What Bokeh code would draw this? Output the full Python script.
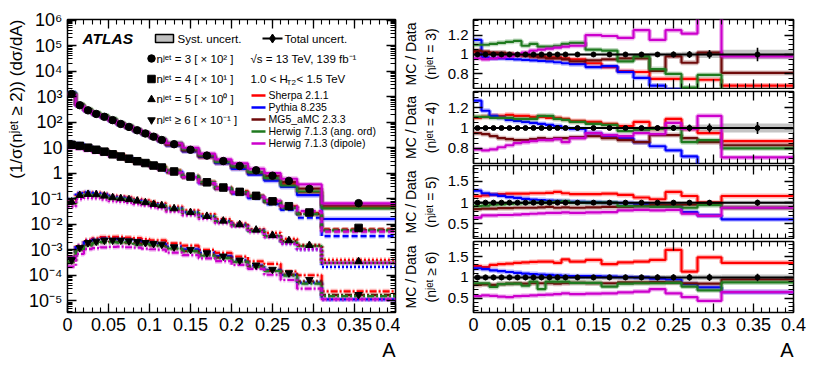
import numpy as np
from bokeh.plotting import figure
from bokeh.models import (Range1d, FixedTicker, CustomJSTickFormatter, LinearAxis, LogAxis,
                          Label, Span, Title)
from bokeh.layouts import row, column
from bokeh.embed import file_html
from bokeh.resources import INLINE

# ---------------- data ----------------
edges = [0.0, 0.01, 0.02, 0.03, 0.04, 0.05, 0.06, 0.07, 0.08, 0.09, 0.10, 0.11, 0.12,
         0.14, 0.16, 0.18, 0.20, 0.22, 0.24, 0.26, 0.28, 0.31, 0.40]

# displayed (already scaled) data values
n3_data = [1270, 460, 290, 210, 162, 120, 85, 65, 48, 36, 27, 20, 13.7, 8.3, 4.9, 3.0, 1.93, 1.3, 0.8, 0.5, 0.243, 0.067]
n4_data = [13, 11.8, 10, 8.3, 7.0, 5.5, 4.5, 3.7, 2.95, 2.5, 2.0, 1.67, 1.17, 0.74, 0.44, 0.275, 0.186, 0.13, 0.079, 0.051, 0.029, 0.0072]
n5_data = [0.075, 0.137, 0.150, 0.146, 0.129, 0.111, 0.102, 0.093, 0.082, 0.071, 0.061, 0.054, 0.041, 0.029, 0.0206, 0.0135, 0.0098, 0.006, 0.0037, 0.0023, 0.0015, 0.00035]
n6_data = [0.0004, 0.0012, 0.0019, 0.00215, 0.00236, 0.00236, 0.00236, 0.00221, 0.0021, 0.0019, 0.00175, 0.00164, 0.00129, 0.00102, 0.00075, 0.00056, 0.00039, 0.00025, 0.00017, 0.000124, 0.000068, 0.0000175]

# relative uncertainties of data
n3_tot = [0.012]*12 + [0.012, 0.014, 0.016, 0.018, 0.02, 0.025, 0.03, 0.035, 0.045, 0.07]
n3_sys = [0.008]*12 + [0.008, 0.01, 0.012, 0.014, 0.016, 0.02, 0.024, 0.028, 0.035, 0.05]
n4_tot = [0.012]*12 + [0.012, 0.014, 0.016, 0.018, 0.02, 0.025, 0.03, 0.035, 0.045, 0.06]
n4_sys = [0.008]*12 + [0.008, 0.01, 0.012, 0.014, 0.016, 0.02, 0.024, 0.028, 0.035, 0.045]
n5_tot = [0.03]*12 + [0.03, 0.03, 0.035, 0.035, 0.04, 0.04, 0.045, 0.05, 0.06, 0.07]
n5_sys = [0.025]*12 + [0.025, 0.025, 0.03, 0.03, 0.03, 0.03, 0.035, 0.035, 0.04, 0.045]
n6_tot = [0.065]*12 + [0.065, 0.065, 0.07, 0.07, 0.07, 0.075, 0.075, 0.08, 0.085, 0.09]
n6_sys = [0.055]*12 + [0.055, 0.055, 0.06, 0.06, 0.06, 0.06, 0.06, 0.065, 0.065, 0.07]

# MC / Data ratios
sherpa_n3 = [1.03, 1.02, 1.01, 1.0, 1.0, 0.99, 0.99, 0.98, 0.98, 0.97, 0.97, 0.96, 0.95, 0.91, 0.87, 0.83, 0.82, 0.75, 0.75, 0.75, 0.74, 0.68]
pythia_n3 = [1.15, 0.97, 0.96, 0.96, 0.955, 0.95, 0.945, 0.94, 0.935, 0.93, 0.92, 0.91, 0.90, 0.87, 0.88, 0.82, 0.76, 0.68, 0.64, 0.58, 0.57, 0.24]
mg5_n3 = [1.04, 1.03, 1.02, 1.02, 1.01, 1.0, 0.99, 0.98, 0.97, 0.96, 0.96, 0.95, 0.93, 0.94, 0.95, 0.96, 0.96, 0.83, 0.98, 0.915, 1.02, 0.81]
hwang_n3 = [1.10, 1.10, 1.11, 1.12, 1.13, 1.14, 1.09, 1.11, 1.08, 1.08, 1.09, 1.11, 1.12, 1.05, 1.04, 0.93, 0.98, 0.85, 0.80, 0.66, 0.79, 0.63]
hwdip_n3 = [0.96, 0.95, 0.96, 0.97, 0.98, 1.0, 1.02, 1.04, 1.05, 1.06, 1.07, 1.08, 1.09, 1.2, 1.19, 1.17, 1.25, 1.15, 1.25, 1.215, 1.5, 0.98]

sherpa_n4 = [1.10, 1.11, 1.12, 1.12, 1.13, 1.12, 1.12, 1.11, 1.11, 1.10, 1.10, 1.09, 1.07, 1.06, 1.04, 1.02, 1.06, 0.99, 1.09, 0.99, 0.95, 0.87]
pythia_n4 = [1.27, 1.17, 1.12, 1.10, 1.08, 1.07, 1.06, 1.05, 1.04, 1.03, 1.02, 1.0, 0.99, 0.95, 0.92, 0.90, 0.86, 0.82, 0.78, 0.72, 0.62, 0.48]
mg5_n4 = [0.95, 0.94, 0.92, 0.90, 0.89, 0.88, 0.88, 0.89, 0.90, 0.89, 0.90, 0.90, 0.91, 0.92, 0.90, 0.88, 0.86, 0.93, 0.93, 0.90, 0.86, 0.83]
hwang_n4 = [1.11, 1.11, 1.10, 1.10, 1.10, 1.09, 1.09, 1.09, 1.12, 1.12, 1.09, 1.08, 1.06, 1.04, 1.03, 0.97, 0.98, 0.99, 1.0, 0.86, 0.88, 0.80]
hwdip_n4 = [0.79, 0.78, 0.79, 0.81, 0.83, 0.85, 0.86, 0.87, 0.88, 0.88, 0.89, 0.86, 0.90, 0.95, 0.93, 0.92, 0.95, 0.94, 1.05, 0.99, 1.12, 0.71]

sherpa_n5 = [1.15, 1.17, 1.19, 1.20, 1.21, 1.21, 1.21, 1.22, 1.22, 1.23, 1.25, 1.22, 1.20, 1.20, 1.21, 1.18, 1.12, 1.08, 1.25, 1.155, 1.0, 1.155]
pythia_n5 = [1.28, 1.22, 1.19, 1.16, 1.13, 1.11, 1.09, 1.07, 1.06, 1.05, 1.04, 1.03, 1.02, 1.01, 1.0, 0.99, 0.97, 0.95, 0.94, 0.78, 0.70, 0.61]
mg5_n5 = [0.85, 0.86, 0.86, 0.87, 0.87, 0.88, 0.88, 0.88, 0.89, 0.90, 0.88, 0.89, 0.88, 0.89, 0.90, 0.90, 0.92, 0.95, 0.95, 0.95, 0.98, 0.88]
hwang_n5 = [0.92, 0.93, 0.95, 0.96, 0.97, 0.98, 0.99, 1.0, 1.0, 1.0, 1.02, 1.03, 1.0, 1.0, 1.0, 0.92, 0.91, 0.90, 0.90, 0.88, 0.94, 0.88]
hwdip_n5 = [0.65, 0.70, 0.70, 0.71, 0.71, 0.72, 0.73, 0.74, 0.75, 0.76, 0.76, 0.77, 0.76, 0.77, 0.78, 0.82, 0.83, 0.82, 0.83, 0.74, 0.69, 0.88]

sherpa_n6 = [1.27, 1.25, 1.30, 1.32, 1.33, 1.35, 1.36, 1.37, 1.38, 1.38, 1.35, 1.43, 1.38, 1.42, 1.32, 1.36, 1.38, 1.42, 1.66, 1.14, 1.48, 1.35]
pythia_n6 = [1.22, 1.20, 1.17, 1.15, 1.13, 1.11, 1.09, 1.08, 1.07, 1.06, 1.05, 1.04, 1.03, 1.03, 1.02, 1.01, 1.00, 0.97, 0.95, 0.84, 0.76, 0.65]
mg5_n6 = [0.82, 0.83, 0.82, 0.84, 0.85, 0.86, 0.85, 0.86, 0.86, 0.86, 0.85, 0.86, 0.87, 0.86, 0.86, 0.88, 0.88, 0.89, 0.88, 0.86, 0.85, 0.95]
hwang_n6 = [0.86, 0.86, 0.77, 0.84, 0.85, 0.85, 0.80, 0.90, 0.72, 0.90, 0.90, 0.90, 0.87, 0.87, 0.78, 0.85, 0.86, 0.86, 0.87, 0.78, 0.69, 0.88]
hwdip_n6 = [0.55, 0.57, 0.56, 0.54, 0.53, 0.55, 0.56, 0.57, 0.58, 0.59, 0.60, 0.62, 0.60, 0.61, 0.62, 0.64, 0.66, 0.72, 0.62, 0.53, 0.44, 0.65]

generators = ["Sherpa 2.1.1", "Pythia 8.235", "MG5_aMC 2.3.3", "Herwig 7.1.3 (ang. ord)", "Herwig 7.1.3 (dipole)"]
gen_colors = ["#ff0000", "#0000ff", "#6e0a0a", "#1f7a1f", "#cc00cc"]
ratios = {
    "3": [sherpa_n3, pythia_n3, mg5_n3, hwang_n3, hwdip_n3],
    "4": [sherpa_n4, pythia_n4, mg5_n4, hwang_n4, hwdip_n4],
    "5": [sherpa_n5, pythia_n5, mg5_n5, hwang_n5, hwdip_n5],
    "6": [sherpa_n6, pythia_n6, mg5_n6, hwang_n6, hwdip_n6],
}
mult_keys = ["3", "4", "5", "6"]
mult_data = {"3": n3_data, "4": n4_data, "5": n5_data, "6": n6_data}
mult_tot = {"3": n3_tot, "4": n4_tot, "5": n5_tot, "6": n6_tot}
mult_sys = {"3": n3_sys, "4": n4_sys, "5": n5_sys, "6": n6_sys}
mult_marker = {"3": "circle", "4": "square", "5": "triangle", "6": "inverted_triangle"}
mult_dash = {"3": "solid", "4": "6 3", "5": "2 2", "6": "7 2 2 2"}
legend_rows = ["nʲᵉᵗ = 3 [ × 10² ]", "nʲᵉᵗ = 4 [ × 10¹ ]", "nʲᵉᵗ = 5 [ × 10⁰ ]", "nʲᵉᵗ ≥ 6 [ × 10⁻¹ ]"]
ratio_labels = ["MC / Data\n(nʲᵉᵗ = 3)", "MC / Data\n(nʲᵉᵗ = 4)", "MC / Data\n(nʲᵉᵗ = 5)", "MC / Data\n(nʲᵉᵗ ≥ 6)"]
main_ylabel = "(1/σ(nʲᵉᵗ ≥ 2)) (dσ/dA)"
x_title = "A"

FONT = "Liberation Sans"
e = np.array(edges)
centers = 0.5 * (e[:-1] + e[1:])
step_x = np.repeat(e, 2)[1:-1]


def step_y(v):
    return np.repeat(np.asarray(v, dtype=float), 2)


x_ticker = FixedTicker(ticks=[0, 0.05, 0.1, 0.15, 0.2, 0.25, 0.3, 0.35, 0.4],
                       minor_ticks=[round(0.01 * i, 2) for i in range(41)])
x_fmt = CustomJSTickFormatter(code="return tick.toFixed(3).replace(/\\.?0+$/, '');")
blank_fmt = CustomJSTickFormatter(code="return '';")
lin_fmt = CustomJSTickFormatter(code="return tick.toFixed(2).replace(/\\.?0+$/, '');")
log_fmt = CustomJSTickFormatter(code="""
const ex = Math.round(Math.log10(tick));
const sup = {'-':'\u207b','0':'\u2070','1':'\u00b9','2':'\u00b2','3':'\u00b3','4':'\u2074','5':'\u2075','6':'\u2076','7':'\u2077','8':'\u2078','9':'\u2079'};
if (ex == 0) return '1';
if (ex == 1) return '10';
return '10' + String(ex).split('').map(c => sup[c]).join('');
""")


def style_axis(ax, label_size):
    ax.major_tick_in = 9
    ax.major_tick_out = 0
    ax.minor_tick_in = 5
    ax.minor_tick_out = 0
    ax.major_tick_line_color = "black"
    ax.minor_tick_line_color = "black"
    ax.major_tick_line_width = 1.3
    ax.minor_tick_line_width = 1.1
    ax.axis_line_color = None
    ax.major_label_text_font = FONT
    ax.major_label_text_font_size = label_size
    ax.major_label_text_color = "black"
    ax.major_label_standoff = 5
    ax.axis_label_text_font = FONT
    ax.axis_label_text_font_style = "normal"
    ax.axis_label_text_color = "black"


def mirror(p, loc, ticker, log=False):
    cls = LogAxis if log else LinearAxis
    ax = cls(ticker=ticker, formatter=blank_fmt)
    style_axis(ax, "1px")
    ax.major_label_standoff = 0
    p.add_layout(ax, loc)


def end_title(p, text, size, loc, standoff=0):
    t = Title(text=text, align="right", text_font=FONT, text_font_size=size,
              text_font_style="normal", text_color="black", standoff=standoff)
    p.add_layout(t, loc)


# ---------------- main panel ----------------
y_ticker = FixedTicker(ticks=[10.0 ** k for k in range(-5, 7)],
                       minor_ticks=[m * 10.0 ** k for k in range(-6, 7) for m in range(2, 10)])
main = figure(width=400, height=378, x_range=Range1d(0, 0.4), y_range=Range1d(3.5e-6, 1.05e6),
              y_axis_type="log", output_backend="svg", toolbar_location=None,
              min_border_left=67, min_border_right=5, min_border_top=19, min_border_bottom=66)
main.grid.visible = False
main.outline_line_color = "black"
main.outline_line_width = 1.5
main.background_fill_color = "white"
main.border_fill_color = "white"
main.xaxis.ticker = x_ticker
main.xaxis.formatter = x_fmt
main.yaxis.ticker = y_ticker
main.yaxis.formatter = log_fmt
style_axis(main.xaxis[0], "18px")
style_axis(main.yaxis[0], "18px")
end_title(main, main_ylabel, "17px", "left")
end_title(main, x_title, "20px", "below", standoff=6)
mirror(main, "above", x_ticker)
mirror(main, "right", y_ticker, log=True)

for k in mult_keys:
    d = np.asarray(mult_data[k], dtype=float)
    for gi, (col, rv) in enumerate(zip(gen_colors, ratios[k])):
        mc = d * np.asarray(rv)
        main.line(step_x, step_y(mc), line_color=col, line_width=5, line_alpha=0.28,
                  line_dash=mult_dash[k])
        main.line(step_x, step_y(mc), line_color=col, line_width=2.2, line_dash=mult_dash[k])
for k in mult_keys:
    d = np.asarray(mult_data[k], dtype=float)
    t = np.asarray(mult_tot[k])
    main.segment(centers, d * (1 - t), centers, d * (1 + t), line_color="black", line_width=1.2)
    main.scatter(centers, d, marker=mult_marker[k], size=7.5, fill_color="black", line_color="black")

# legend positions in data coords derived from frame pixels
FX0, FPX = 67.0, 820.0
LT, LPD = 6.02, 11.47 / 293.0


def lx(px):
    return (px - FX0) / FPX


def ly(py):
    return 10 ** (LT - (py - 19.0) * LPD)


def txt(p, x, y, s, size="11.5px", style="normal", align="left", font=FONT):
    p.add_layout(Label(x=x, y=y, text=s, text_font=font, text_font_size=size, text_font_style=style,
                       text_baseline="middle", text_align=align, text_color="black"))


txt(main, lx(82), ly(38), "ATLAS", size="15.5px", style="bold italic")
main.quad(left=[lx(155)], right=[lx(173)], top=[ly(34)], bottom=[ly(42)],
          fill_color="#c0c0c0", line_color="black", line_width=1.5)
txt(main, lx(177), ly(38), "Syst. uncert.")
main.line([lx(262), lx(282)], [ly(38), ly(38)], line_color="black", line_width=2)
main.scatter([lx(272)], [ly(38)], marker="diamond", size=9, fill_color="black", line_color="black")
txt(main, lx(284), ly(38), "Total uncert.")
for i, k in enumerate(mult_keys):
    yy = 58 + i * 20.5
    main.scatter([lx(151)], [ly(yy)], marker=mult_marker[k], size=7.5, fill_color="black", line_color="black")
    txt(main, lx(156), ly(yy), legend_rows[i])
txt(main, lx(250), ly(58), "√s = 13 TeV, 139 fb⁻¹")
txt(main, lx(250), ly(79), "1.0 < H")
txt(main, lx(286), ly(82), "T2", size="8px")
txt(main, lx(296), ly(79), "< 1.5 TeV")
for i, (g, col) in enumerate(zip(generators, gen_colors)):
    yy = 95 + i * 12
    main.line([lx(251), lx(265)], [ly(yy), ly(yy)], line_color=col, line_width=2.5)
    txt(main, lx(268), ly(yy), g, size="10.5px")

# ---------------- ratio panels ----------------
ratio_specs = [
    dict(h=89, bt=19, bb=1, yr=(0.65, 1.36), ticks=[0.8, 1.0, 1.2], step=0.05),
    dict(h=75, bt=2, bb=1, yr=(0.65, 1.36), ticks=[0.8, 1.0, 1.2], step=0.05),
    dict(h=75, bt=1, bb=1, yr=(0.16, 1.87), ticks=[0.5, 1.0, 1.5], step=0.1),
    dict(h=139, bt=2, bb=66, yr=(0.16, 1.86), ticks=[0.5, 1.0, 1.5], step=0.1),
]
panels = []
for pi, (k, spec) in enumerate(zip(mult_keys, ratio_specs)):
    last = pi == 3
    p = figure(width=406, height=spec["h"], x_range=Range1d(0, 0.4), y_range=Range1d(*spec["yr"]),
               output_backend="svg", toolbar_location=None,
               min_border_left=71, min_border_right=13, min_border_top=spec["bt"],
               min_border_bottom=spec["bb"])
    p.grid.visible = False
    p.outline_line_color = "black"
    p.outline_line_width = 1.5
    p.background_fill_color = "white"
    p.border_fill_color = "white"
    minors = [round(spec["step"] * i, 2) for i in range(0, int(2.0 / spec["step"]) + 1)]
    yt = FixedTicker(ticks=spec["ticks"], minor_ticks=minors)
    p.yaxis.ticker = yt
    p.yaxis.formatter = lin_fmt
    style_axis(p.yaxis[0], "15px")
    p.yaxis.axis_label = ratio_labels[pi]
    p.yaxis.axis_label_text_font_size = "14px"
    p.yaxis.axis_label_standoff = 6
    p.xaxis.ticker = x_ticker
    if last:
        p.xaxis.formatter = x_fmt
        style_axis(p.xaxis[0], "18px")
        end_title(p, x_title, "20px", "below", standoff=6)
    else:
        p.xaxis.formatter = blank_fmt
        style_axis(p.xaxis[0], "1px")
        p.xaxis.major_label_standoff = 0
    mirror(p, "above", x_ticker)
    mirror(p, "right", yt)

    s = np.asarray(mult_sys[k])
    p.quad(left=e[:-1], right=e[1:], bottom=1 - s, top=1 + s, fill_color="#c4c4c4", line_color=None)
    for col, rv in zip(gen_colors, ratios[k]):
        p.line(step_x, step_y(rv), line_color=col, line_width=5, line_alpha=0.28)
        p.line(step_x, step_y(rv), line_color=col, line_width=2.2)
    p.add_layout(Span(location=1.0, dimension="width", line_color="black", line_width=2))
    t = np.asarray(mult_tot[k])
    ones = np.ones(len(centers))
    p.segment(centers, ones - t, centers, ones + t, line_color="black", line_width=1.6)
    p.scatter(centers, ones, marker="circle", size=5, fill_color="black", line_color="black")
    panels.append(p)

layout = row(main, column(*panels))
open("out.html", "w").write(file_html(layout, INLINE))
